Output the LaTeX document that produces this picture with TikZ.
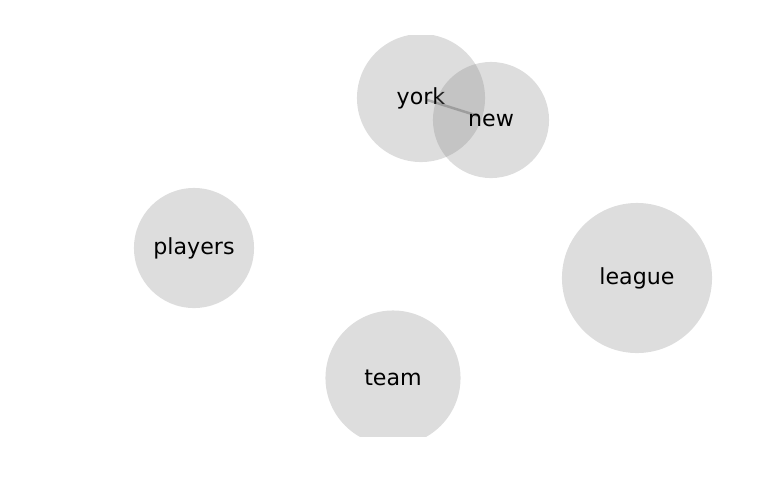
\documentclass[tikz,border=0pt]{standalone}
\usepackage{fontspec}
\setmainfont{DejaVu Sans}
\usepackage{tikz}
\usetikzlibrary{positioning,backgrounds}

\begin{document}
\begin{tikzpicture}[
    x=0.01in, y=-0.01in,
    every node/.style={font=\fontsize{16}{19}\selectfont},
    bubble/.style={circle, fill=gray, fill opacity=0.27, text opacity=1,
                   inner sep=0pt, align=center},
    link/.style={line width=1.8pt, color=gray!55, line cap=butt},
]
\useasboundingbox (0,0) rectangle (768,500);
\begin{scope}
\clip (0,35) rectangle (768,436);
% Nodes
\node[bubble, minimum size=1.28in] (york)    at (421,98)  {york};
\node[bubble, minimum size=1.16in] (new)     at (491,120) {new};
\node[bubble, minimum size=1.20in] (players) at (194,248) {players};
\node[bubble, minimum size=1.50in] (league)  at (637,278) {league};
\node[bubble, minimum size=1.35in] (team)    at (393,378) {team};
\end{scope}

% Edges
\begin{pgfonlayer}{background}
\draw[link, shorten <=4.5pt, shorten >=10pt] (york.center) -- (new.center);
\end{pgfonlayer}
\end{tikzpicture}
\end{document}
